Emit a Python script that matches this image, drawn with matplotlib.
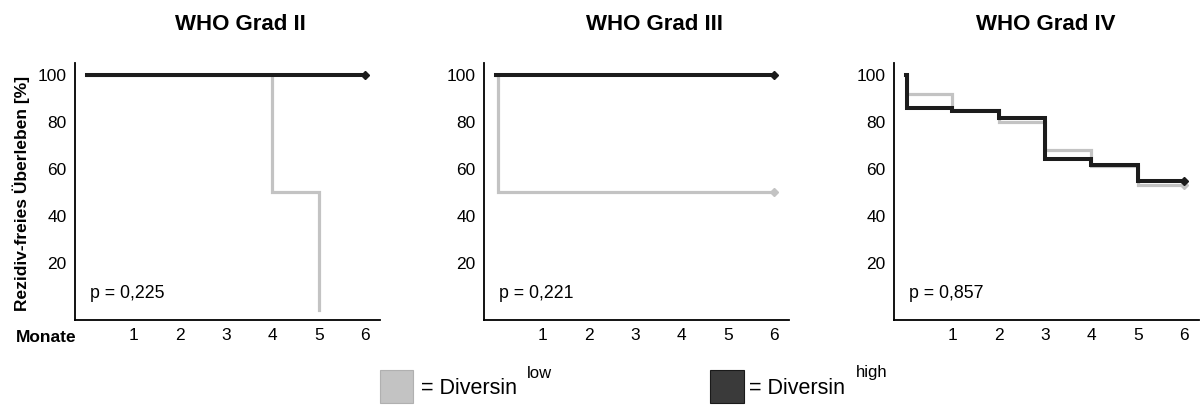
import matplotlib
matplotlib.use('Agg')
import matplotlib.pyplot as plt
from matplotlib.patches import Rectangle

plt.rcParams['font.family'] = ['Liberation Sans', 'DejaVu Sans']

titles = ['WHO Grad II', 'WHO Grad III', 'WHO Grad IV']
p_values = ['p = 0,225', 'p = 0,221', 'p = 0,857']

# Kaplan-Meier Stufen (Zeit in Monaten, Überleben in %), where='post'
low_t = [[0, 4, 4, 5, 5], [0, 0.04, 6], [0, 0.03, 1, 2, 3, 4, 5, 6]]
low_s = [[100, 100, 50, 50, 0], [100, 50, 50], [100, 92, 85, 80, 68, 61, 53, 53]]
high_t = [[0, 6], [0, 6], [0, 0.03, 1, 2, 3, 4, 5, 6]]
high_s = [[100, 100], [100, 100], [100, 86, 84.5, 81.5, 64, 61.5, 55, 55]]
low_censor = [None, (6, 50), (6, 53)]
high_censor = [(6, 100), (6, 100), (6, 55)]

xticks = [1, 2, 3, 4, 5, 6]
yticks = [20, 40, 60, 80, 100]

c_low = '#c3c3c3'
c_high = '#1c1c1c'

fig = plt.figure(figsize=(12.01, 4.05), dpi=100)
lefts = [75, 484, 894]
title_x = [240, 654, 1046]
for i in range(3):
    ax = fig.add_axes([lefts[i] / 1201, 85 / 405, 305 / 1201, 257 / 405])
    ax.step(low_t[i], low_s[i], where='post', color=c_low, lw=2.3, solid_joinstyle='miter')
    ax.step(high_t[i], high_s[i], where='post', color=c_high, lw=2.9, solid_joinstyle='miter')
    if low_censor[i]:
        ax.plot(*low_censor[i], marker='D', ms=4.5, color=c_low)
    ax.plot(*high_censor[i], marker='D', ms=4.5, color=c_high)
    ax.set_xlim(-0.26, 6.32)
    ax.set_ylim(-4.3, 105)
    ax.set_xticks(xticks)
    ax.set_yticks(yticks)
    ax.tick_params(length=0, labelsize=12.5, pad=6)
    for s in ['top', 'right']:
        ax.spines[s].set_visible(False)
    for s in ['left', 'bottom']:
        ax.spines[s].set_linewidth(1.3)
    ax.text(0.07, 7, p_values[i], fontsize=12.8, va='center', ha='left')
    fig.text(title_x[i] / 1201, 1 - 24 / 405, titles[i], ha='center', va='center',
             fontsize=16, fontweight='bold')

fig.text(21 / 1201, 1 - 193 / 405, 'Rezidiv-freies Überleben [%]', rotation=90, ha='center', va='center',
         fontsize=12.5, fontweight='bold')
fig.text(16 / 1201, 1 - 337 / 405, 'Monate', ha='left', va='center', fontsize=12.5, fontweight='bold')

# Legende
fig.patches.append(Rectangle((380 / 1201, 2 / 405), 33 / 1201, 33 / 405, transform=fig.transFigure,
                             facecolor=c_low, edgecolor='#b0b0b0', lw=0.8))
fig.patches.append(Rectangle((710 / 1201, 2 / 405), 34 / 1201, 33 / 405, transform=fig.transFigure,
                             facecolor='#3a3a3a', edgecolor='#1a1a1a', lw=0.8))
fig.text(421 / 1201, 1 - 388 / 405, '= Diversin', ha='left', va='center', fontsize=15.5)
fig.text(527 / 1201, 1 - 373 / 405, 'low', ha='left', va='center', fontsize=12)
fig.text(749 / 1201, 1 - 388 / 405, '= Diversin', ha='left', va='center', fontsize=15.5)
fig.text(856 / 1201, 1 - 373 / 405, 'high', ha='left', va='center', fontsize=12)

fig.savefig('out.png', dpi=100)
